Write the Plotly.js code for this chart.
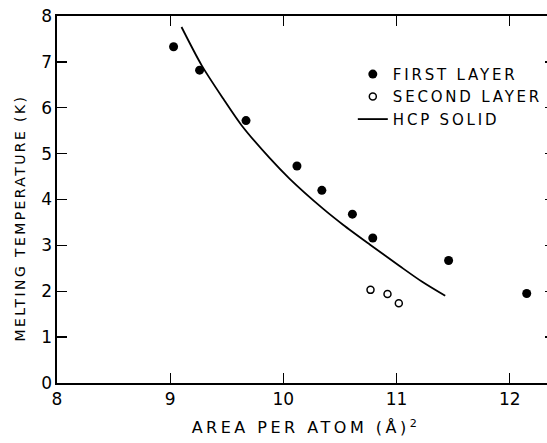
<!DOCTYPE html>
<html>
<head>
<meta charset="utf-8">
<script src="https://cdn.plot.ly/plotly-3.0.1.min.js"></script>
<style>
html, body { margin: 0; padding: 0; overflow: hidden; background: #fff; }
#chart { width: 557px; height: 443px; }
#chart .xtitle { letter-spacing: 3.5px; }
#chart .annotation-text { letter-spacing: 2.4px; }
#chart .legendtext { letter-spacing: 2.8px; }
#chart .legend, #chart .legend * { clip-path: none !important; }
</style>
</head>
<body>
<div id="chart"></div>
<script>
// First layer (filled circles)
const firstArea = [9.03, 9.26, 9.67, 10.12, 10.34, 10.61, 10.79, 11.46, 12.15];
const firstTemp = [7.33, 6.82, 5.72, 4.73, 4.20, 3.68, 3.16, 2.67, 1.95];
// Second layer (open circles)
const secondArea = [10.77, 10.92, 11.02];
const secondTemp = [2.03, 1.94, 1.74];
// HCP solid curve
const hcpArea = [9.10, 9.277, 9.468, 9.63, 9.88, 10.056, 10.35, 10.527, 10.763, 11.027, 11.23, 11.43];
const hcpTemp = [7.76, 6.93, 6.20, 5.62, 4.90, 4.45, 3.80, 3.45, 3.02, 2.55, 2.20, 1.90];
// Tick values
const xTicks = [8, 9, 10, 11, 12];
const yTicks = [0, 1, 2, 3, 4, 5, 6, 7, 8];

const font = "DejaVu Sans, Liberation Sans, sans-serif";

const traces = [
  {
    x: firstArea, y: firstTemp, name: "FIRST LAYER", type: "scatter", mode: "markers",
    marker: {color: "#000", size: 9, symbol: "circle"}
  },
  {
    x: secondArea, y: secondTemp, name: "SECOND LAYER", type: "scatter", mode: "markers",
    marker: {color: "#fff", size: 7, symbol: "circle", line: {color: "#000", width: 1.5}}
  },
  {
    x: hcpArea, y: hcpTemp, name: "HCP SOLID", type: "scatter", mode: "lines",
    line: {color: "#000", width: 1.8, shape: "spline", smoothing: 0.8}
  }
];

const axisCommon = {
  showline: true, linecolor: "#000", linewidth: 1.6,
  ticks: "inside", ticklen: 10, tickwidth: 1.3, tickcolor: "#000",
  mirror: "ticks", showgrid: false, zeroline: false,
  tickfont: {family: font, size: 17, color: "#000"}
};

const layout = {
  width: 557, height: 443,
  margin: {l: 57, r: 2, t: 16, b: 60},
  paper_bgcolor: "#fff", plot_bgcolor: "#fff",
  font: {family: font, color: "#000"},
  showlegend: true,
  legend: {
    x: 0.594, y: 0.886, xanchor: "left", yanchor: "top",
    bgcolor: "rgba(0,0,0,0)", borderwidth: 0,
    font: {family: font, size: 15, color: "#000"},
    itemwidth: 30, tracegroupgap: 0
  },
  xaxis: Object.assign({}, axisCommon, {
    range: [8, 12.4], tickvals: xTicks, ticktext: xTicks.map(String),
    title: {text: "AREA PER ATOM (Å)<sup>2</sup>", font: {family: font, size: 16, color: "#000"}, standoff: 14}
  }),
  yaxis: Object.assign({}, axisCommon, {
    range: [0, 8], tickvals: yTicks, ticktext: yTicks.map(String)
  }),
  annotations: [{
    text: "MELTING TEMPERATURE (K)", textangle: -90,
    xref: "paper", yref: "paper", x: -0.0743, y: 0.45,
    xanchor: "center", yanchor: "middle", showarrow: false,
    font: {family: font, size: 14, color: "#000"}
  }]
};

Plotly.newPlot("chart", traces, layout, {displayModeBar: false, staticPlot: true});
</script>
</body>
</html>
